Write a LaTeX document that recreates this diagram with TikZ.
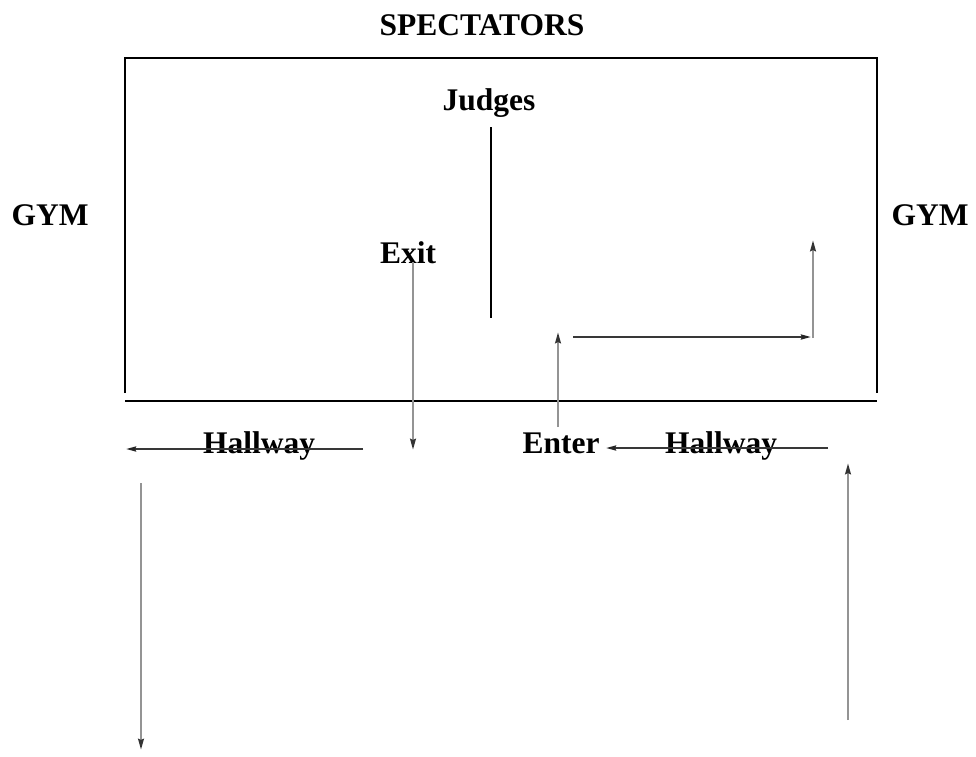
\documentclass[tikz,border=0pt]{standalone}
\usepackage{fontspec}
\setmainfont{Liberation Serif}
\usetikzlibrary{arrows.meta}
\begin{document}
\begin{tikzpicture}[x=1pt,y=-1pt,
  lbl/.style={font=\fontsize{31.5}{31.5}\selectfont\bfseries, anchor=base, inner sep=0pt},
  wall/.style={line width=2.4pt, draw=black},
  thinwall/.style={line width=2pt, draw=black},
  grayarrow/.style={line width=2.4pt, draw=black!42, -{Stealth[length=11pt,width=5.5pt,inset=1pt,color=black!80]}},
  darkarrow/.style={line width=2pt, draw=black!78, -{Stealth[length=10pt,width=5pt,inset=1pt,color=black!85]}}]
\useasboundingbox (0,0) rectangle (976,756);
% labels
\node[lbl] (spect) at (482,35) {SPECTATORS};
\node[lbl] (judges) at (489,110) {Judges};
\node[lbl] (gymL) at (50,225) {GYM};
\node[lbl] (gymR) at (930,225) {GYM};
\node[lbl] (exit) at (408,263) {Exit};
\node[lbl] (hallL) at (259,453) {Hallway};
\node[lbl] (enter) at (561,453) {Enter};
\node[lbl] (hallR) at (721,453) {Hallway};
% coordinates
\coordinate (bl) at (125,393);
\coordinate (tl) at (125,58);
\coordinate (tr) at (877,58);
\coordinate (br) at (877,393);
\coordinate (floorL) at (125,401);
\coordinate (floorR) at (877,401);
\coordinate (judgeTop) at (491,127);
\coordinate (judgeBot) at (491,318);
\coordinate (exitS) at (413,262);
\coordinate (exitE) at (413,450);
\coordinate (enterS) at (558,427);
\coordinate (enterE) at (558,332);
\coordinate (midS) at (573,337);
\coordinate (midE) at (811,337);
\coordinate (upS) at (813,338);
\coordinate (upE) at (813,240);
\coordinate (hrS) at (828,448);
\coordinate (hrE) at (606,448);
\coordinate (hlS) at (363,449);
\coordinate (hlE) at (126,449);
\coordinate (dlS) at (141,483);
\coordinate (dlE) at (141,750);
\coordinate (urS) at (848,720);
\coordinate (urE) at (848,463);
% walls
\draw[thinwall] (bl) -- (tl) -- (tr) -- (br);
\draw[wall] (floorL) -- (floorR);
\draw[thinwall] (judgeTop) -- (judgeBot);
% arrows
\draw[grayarrow] (exitS) -- (exitE);
\draw[grayarrow] (enterS) -- (enterE);
\draw[darkarrow] (midS) -- (midE);
\draw[grayarrow] (upS) -- (upE);
\draw[darkarrow] (hrS) -- (hrE);
\draw[darkarrow] (hlS) -- (hlE);
\draw[grayarrow] (dlS) -- (dlE);
\draw[grayarrow] (urS) -- (urE);
\end{tikzpicture}
\end{document}
